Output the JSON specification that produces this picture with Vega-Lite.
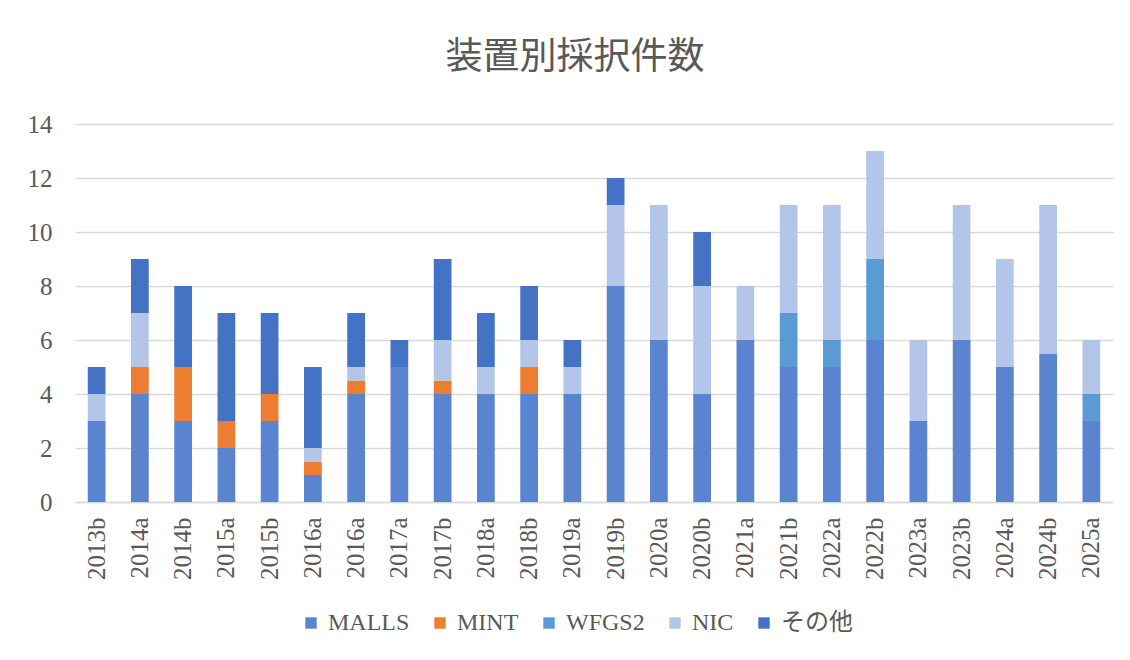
{
  "$schema": "https://vega.github.io/schema/vega-lite/v6.json",
  "width": 1038,
  "height": 378,
  "autosize": {"type": "none"},
  "padding": {"left": 75, "top": 124, "right": 17, "bottom": 158},
  "background": "white",
  "title": {
    "text": "装置別採択件数",
    "font": "Noto Sans CJK JP",
    "fontSize": 37,
    "fontWeight": "normal",
    "color": "#595959",
    "anchor": "middle",
    "dx": -19,
    "offset": 35
  },
  "data": {
    "values": [
      {"p": "2013b", "s": "MALLS", "v": 3}, {"p": "2013b", "s": "NIC", "v": 1}, {"p": "2013b", "s": "その他", "v": 1},
      {"p": "2014a", "s": "MALLS", "v": 4}, {"p": "2014a", "s": "MINT", "v": 1}, {"p": "2014a", "s": "NIC", "v": 2}, {"p": "2014a", "s": "その他", "v": 2},
      {"p": "2014b", "s": "MALLS", "v": 3}, {"p": "2014b", "s": "MINT", "v": 2}, {"p": "2014b", "s": "その他", "v": 3},
      {"p": "2015a", "s": "MALLS", "v": 2}, {"p": "2015a", "s": "MINT", "v": 1}, {"p": "2015a", "s": "その他", "v": 4},
      {"p": "2015b", "s": "MALLS", "v": 3}, {"p": "2015b", "s": "MINT", "v": 1}, {"p": "2015b", "s": "その他", "v": 3},
      {"p": "2016a", "s": "MALLS", "v": 1}, {"p": "2016a", "s": "MINT", "v": 0.5}, {"p": "2016a", "s": "NIC", "v": 0.5}, {"p": "2016a", "s": "その他", "v": 3},
      {"p": "2016a ", "s": "MALLS", "v": 4}, {"p": "2016a ", "s": "MINT", "v": 0.5}, {"p": "2016a ", "s": "NIC", "v": 0.5}, {"p": "2016a ", "s": "その他", "v": 2},
      {"p": "2017a", "s": "MALLS", "v": 5}, {"p": "2017a", "s": "その他", "v": 1},
      {"p": "2017b", "s": "MALLS", "v": 4}, {"p": "2017b", "s": "MINT", "v": 0.5}, {"p": "2017b", "s": "NIC", "v": 1.5}, {"p": "2017b", "s": "その他", "v": 3},
      {"p": "2018a", "s": "MALLS", "v": 4}, {"p": "2018a", "s": "NIC", "v": 1}, {"p": "2018a", "s": "その他", "v": 2},
      {"p": "2018b", "s": "MALLS", "v": 4}, {"p": "2018b", "s": "MINT", "v": 1}, {"p": "2018b", "s": "NIC", "v": 1}, {"p": "2018b", "s": "その他", "v": 2},
      {"p": "2019a", "s": "MALLS", "v": 4}, {"p": "2019a", "s": "NIC", "v": 1}, {"p": "2019a", "s": "その他", "v": 1},
      {"p": "2019b", "s": "MALLS", "v": 8}, {"p": "2019b", "s": "NIC", "v": 3}, {"p": "2019b", "s": "その他", "v": 1},
      {"p": "2020a", "s": "MALLS", "v": 6}, {"p": "2020a", "s": "NIC", "v": 5},
      {"p": "2020b", "s": "MALLS", "v": 4}, {"p": "2020b", "s": "NIC", "v": 4}, {"p": "2020b", "s": "その他", "v": 2},
      {"p": "2021a", "s": "MALLS", "v": 6}, {"p": "2021a", "s": "NIC", "v": 2},
      {"p": "2021b", "s": "MALLS", "v": 5}, {"p": "2021b", "s": "WFGS2", "v": 2}, {"p": "2021b", "s": "NIC", "v": 4},
      {"p": "2022a", "s": "MALLS", "v": 5}, {"p": "2022a", "s": "WFGS2", "v": 1}, {"p": "2022a", "s": "NIC", "v": 5},
      {"p": "2022b", "s": "MALLS", "v": 6}, {"p": "2022b", "s": "WFGS2", "v": 3}, {"p": "2022b", "s": "NIC", "v": 4},
      {"p": "2023a", "s": "MALLS", "v": 3}, {"p": "2023a", "s": "NIC", "v": 3},
      {"p": "2023b", "s": "MALLS", "v": 6}, {"p": "2023b", "s": "NIC", "v": 5},
      {"p": "2024a", "s": "MALLS", "v": 5}, {"p": "2024a", "s": "NIC", "v": 4},
      {"p": "2024b", "s": "MALLS", "v": 5.5}, {"p": "2024b", "s": "NIC", "v": 5.5},
      {"p": "2025a", "s": "MALLS", "v": 3}, {"p": "2025a", "s": "WFGS2", "v": 1}, {"p": "2025a", "s": "NIC", "v": 2}
    ]
  },
  "transform": [
    {"calculate": "indexof(['MALLS','MINT','WFGS2','NIC','その他'], datum.s)", "as": "o"}
  ],
  "mark": {"type": "bar", "width": {"band": 0.41}},
  "encoding": {
    "x": {
      "field": "p",
      "type": "nominal",
      "sort": null,
      "title": null,
      "scale": {"paddingInner": 0, "paddingOuter": 0},
      "axis": {
        "labelAngle": -90,
        "labelFont": "Liberation Serif",
        "labelFontSize": 25,
        "labelColor": "#595959",
        "labelPadding": 15,
        "ticks": false,
        "domainColor": "#D9D9D9",
        "domainWidth": 1.5
      }
    },
    "y": {
      "field": "v",
      "type": "quantitative",
      "aggregate": "sum",
      "stack": "zero",
      "title": null,
      "scale": {"domain": [0, 14]},
      "axis": {
        "values": [0, 2, 4, 6, 8, 10, 12, 14],
        "labelFont": "Liberation Serif",
        "labelFontSize": 25,
        "labelColor": "#595959",
        "labelPadding": 23,
        "ticks": false,
        "domain": false,
        "gridColor": "#D9D9D9",
        "gridWidth": 1.5
      }
    },
    "color": {
      "field": "s",
      "type": "nominal",
      "title": null,
      "sort": ["MALLS", "MINT", "WFGS2", "NIC", "その他"],
      "scale": {
        "domain": ["MALLS", "MINT", "WFGS2", "NIC", "その他"],
        "range": ["#5B84D0", "#ED7D31", "#5B9BD5", "#B3C6EA", "#4472C4"]
      },
      "legend": {
        "orient": "none",
        "direction": "horizontal",
        "legendX": 224,
        "legendY": 487,
        "symbolType": "square",
        "symbolSize": 130,
        "symbolStrokeWidth": 0,
        "labelFont": "Liberation Serif, Noto Sans CJK JP",
        "labelFontSize": 24,
        "labelColor": "#595959",
        "columnPadding": 18,
        "labelOffset": 5
      }
    },
    "order": {"field": "o", "type": "quantitative", "sort": "ascending"}
  },
  "config": {"view": {"stroke": null}}
}
